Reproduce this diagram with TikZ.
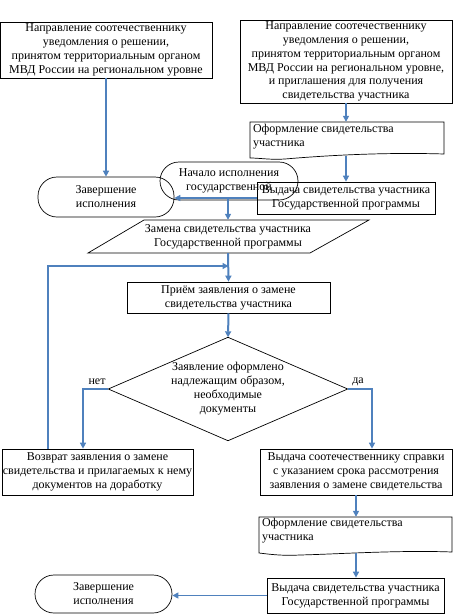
\documentclass[tikz,border=0pt]{standalone}
\usepackage{fontspec}
\setmainfont{Liberation Serif}
\usetikzlibrary{arrows.meta}
\definecolor{lnblue}{RGB}{79,129,189}
\begin{document}
\begin{tikzpicture}[x=1pt,y=-1pt,
  txt/.style={inner sep=0pt, align=center, font=\fontsize{12}{14}\selectfont},
  box/.style={txt, draw, line width=0.7pt},
  term/.style={txt, draw, line width=0.7pt, rounded corners=19pt},
  shp/.style={draw, line width=0.7pt},
  arr/.style={draw=lnblue, line width=2pt, -{Triangle[length=6pt,width=6pt]}},
  arrthin/.style={draw=lnblue, line width=1.4pt, -{Triangle[length=6pt,width=6pt]}},
  lbl/.style={inner sep=0pt, font=\fontsize{12}{13}\selectfont}
]
\useasboundingbox (0,0) rectangle (474,616);

% top boxes
\node[box, minimum width=212pt, minimum height=56pt] (b1) at (106,50)
  {Направление соотечественнику\\уведомления о решении,\\принятом территориальным органом\\МВД России на региональном уровне};
\node[box, minimum width=212pt, minimum height=83pt, font=\fontsize{12}{13.8}\selectfont] (b2) at (346,61.5)
  {Направление соотечественнику\\уведомления о решении,\\принятом территориальным органом\\МВД России на региональном уровне,\\и приглашения для получения\\свидетельства участника};

% document 1
\node[txt, minimum width=194pt, minimum height=37pt] (doc1) at (347,140.5) {};
\draw[shp] (250,122) -- (444,122) -- (444,154) .. controls (380,152) and (320,156) .. (285,159)
  .. controls (270,160) and (260,158) .. (250,158) -- cycle;
\node[txt, align=left, anchor=north west] (doc1t) at (doc1.north west) [xshift=3pt, yshift=-2pt]
  {Оформление свидетельства\\участника};

% terminals and issue box
\node[term, minimum width=136pt, minimum height=40pt] (zav1) at (106,197) {Завершение\\исполнения};
\node[term, minimum width=138pt, minimum height=38pt] (nach) at (229,181) {Начало исполнения\\государственной};
\node[box, minimum width=178pt, minimum height=32pt] (vyd1) at (346,198)
  {Выдача свидетельства участника\\Государственной программы};

% parallelogram
\node[txt, minimum width=166pt, minimum height=33pt] (zam) at (228,236.5)
  {Замена свидетельства участника\\Государственной программы};
\draw[shp] (144,220) -- (369,220) -- (310,253) -- (88,253) -- cycle;

% priem
\node[box, minimum width=203pt, minimum height=31pt] (priem) at (228.5,297.5)
  {Приём заявления о замене\\свидетельства участника};

% diamond
\node[txt, minimum width=239pt, minimum height=103pt] (dia) at (228,389)
  {Заявление оформлено\\надлежащим образом,\\необходимые\\документы};
\draw[shp] (dia.north) -- (dia.east) -- (dia.south) -- (dia.west) -- cycle;

% lower boxes
\node[box, minimum width=191pt, minimum height=46pt] (voz) at (97.5,472)
  {Возврат заявления о замене\\свидетельства и прилагаемых к нему\\документов на доработку};
\node[box, minimum width=192pt, minimum height=46pt] (spr) at (356,472)
  {Выдача соотечественнику справки\\с указанием срока рассмотрения\\заявления о замене свидетельства};

% document 2
\node[txt, minimum width=193pt, minimum height=38pt] (doc2) at (355.5,536) {};
\draw[shp] (259,517) -- (452,517) -- (452,552) .. controls (400,550) and (340,554) .. (300,555)
  .. controls (280,556) and (268,554) .. (259,553) -- cycle;
\node[txt, align=left, anchor=north west] (doc2t) at (doc2.north west) [xshift=3pt, yshift=-1pt]
  {Оформление свидетельства\\участника};

\node[box, minimum width=177pt, minimum height=35pt] (vyd2) at (355.5,595.5)
  {Выдача свидетельства участника\\Государственной программы};
\node[term, minimum width=137pt, minimum height=38pt] (zav2) at (103.5,594) {Завершение\\исполнения};

% connectors
\draw[arr] (b1.south) -- (zav1.north);
\draw[arr] (b2.south) -- (b2.south |- doc1.north);
\draw[arr] (vyd1.north |- doc1.south) ++(0,-3) -- (vyd1.north);
\draw[arr] (vyd1.west) -- (vyd1.west -| zav1.east);
\draw[arr] (zam.north |- vyd1.west) -- (zam.north);
\draw[arr] (zam.south) -- (priem.north);
\coordinate (loop) at (48,266);
\draw[arrthin] (voz.north -| loop) -- (loop) -- (loop -| priem.north);
\draw[arr] (priem.south) -- (dia.north);
\coordinate (netc) at (83,389);
\coordinate (dac) at (372,389);
\draw[arrthin] (dia.west) -- (netc) -- (netc |- voz.north);
\draw[arrthin] (dia.east) -- (dac) -- (dac |- spr.north);
\node[lbl] (net) at (97,382) {нет};
\node[lbl] (da) at (358,382) {да};
\draw[arr] (spr.south) -- (spr.south |- doc2.north);
\draw[arr] (spr.south |- doc2.south) ++(0,-2) -- (spr.south |- vyd2.north);
\draw[arrthin, line width=1pt] (vyd2.west) -- (vyd2.west -| zav2.east);
\end{tikzpicture}
\end{document}
